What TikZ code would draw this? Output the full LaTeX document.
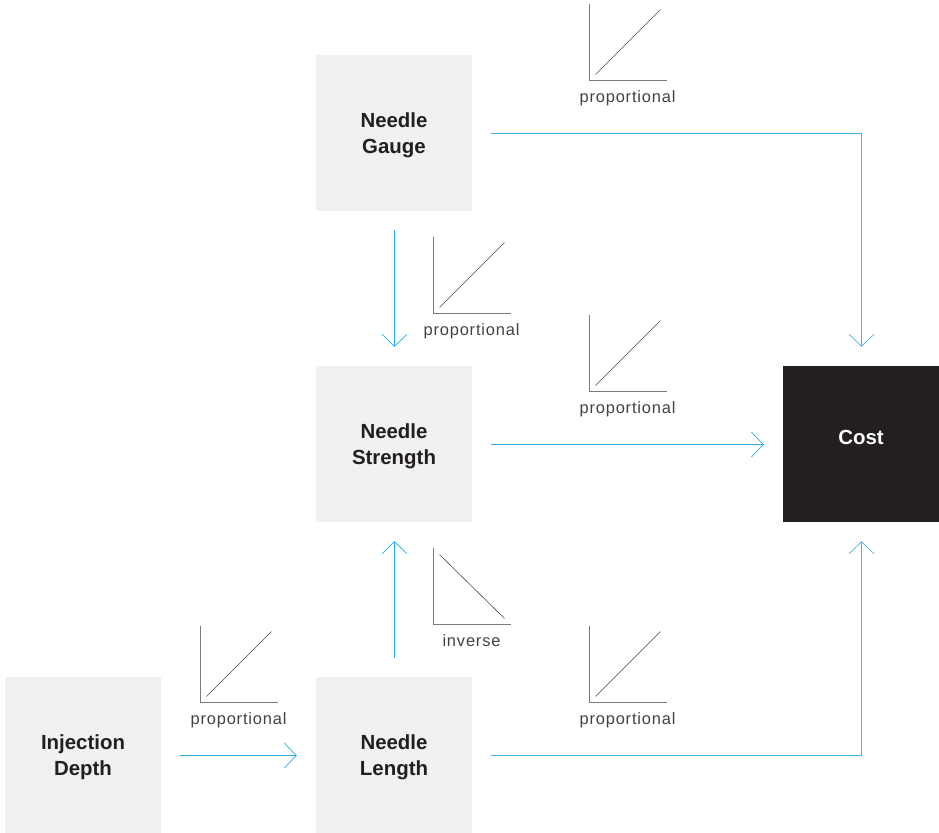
\documentclass[tikz,border=0pt]{standalone}
\usepackage{fontspec}
\setmainfont{Liberation Sans}
\newfontfamily\tagfont[LetterSpace=5]{Liberation Sans}
\usetikzlibrary{arrows.meta}

\definecolor{boxgray}{HTML}{F1F1F1}
\definecolor{inkdark}{HTML}{231F20}
\definecolor{flowblue}{HTML}{2FAAE1}
\definecolor{flowlight}{HTML}{45B5E8}
\definecolor{axisgray}{HTML}{7A7A7A}

\tikzset{
  factor/.style={fill=boxgray, minimum width=156bp, minimum height=156bp,
    inner sep=0pt},
  outcome/.style={factor, fill=inkdark},
  factortext/.style={align=center, text=inkdark, inner sep=0pt,
    font=\bfseries\fontsize{20.5}{26}\selectfont},
  flow/.style={draw=flowblue, line width=1.2bp,
    -{Straight Barb[length=12bp, width=25bp, line width=0.7bp]}},
  softflow/.style={flow, draw=flowlight, line width=1.4bp},
  axisline/.style={draw=axisgray, line width=1bp},
  trendline/.style={draw=inkdark!80, line width=0.6bp},
  tag/.style={text=inkdark!85, inner sep=0pt,
    font=\tagfont\fontsize{16.5}{18}\selectfont},
  proppic/.pic={
    \draw[axisline] (0,-77) |- (77,0);
    \draw[trendline] (6,-6) -- (71,-71);
  },
  invpic/.pic={
    \draw[axisline] (0,-77) |- (77,0);
    \draw[trendline] (6,-70) -- (71,-6);
  }
}

\begin{document}
\begin{tikzpicture}[x=1bp, y=-1bp]
\useasboundingbox (0,0) rectangle (939,833);

% factor boxes
\node[factor]  (gauge)    at (394,133) {};
\node[factor]  (strength) at (394,444) {};
\node[factor]  (length)   at (394,755) {};
\node[factor]  (depth)    at (83,755)  {};
\node[outcome] (cost)     at (861,444) {};

% box captions
\node[factortext] (gaugetext)    at (394,135) {Needle\\Gauge};
\node[factortext] (strengthtext) at (394,446) {Needle\\Strength};
\node[factortext] (lengthtext)   at (394,757) {Needle\\Length};
\node[factortext] (depthtext)    at (83,757)  {Injection\\Depth};
\node[factortext, text=white] (costtext) at (861,437) {Cost};

% relations (half-unit offsets keep the thin strokes on whole pixels)
\coordinate (bendtop) at (gauge.east -| cost.north);
\coordinate (bendbot) at (length.east -| cost.south);
\draw[flow] ([shift={(0.5,19)}]gauge.south) -- ([shift={(0.5,-19)}]strength.north);
\draw[softflow] ([shift={(19,0.5)}]gauge.east) -- ([shift={(0.5,0.5)}]bendtop)
  -- ([shift={(0.5,-19)}]cost.north);
\draw[flow] ([shift={(19,0.5)}]strength.east) -- ([shift={(-19,0.5)}]cost.west);
\draw[flow] ([shift={(0.5,-19)}]length.north) -- ([shift={(0.5,19)}]strength.south);
\draw[softflow] ([shift={(19,0.5)}]length.east) -- ([shift={(0.5,0.5)}]bendbot)
  -- ([shift={(0.5,19)}]cost.south);
\draw[flow] ([shift={(19,0.5)}]depth.east) -- ([shift={(-19,0.5)}]length.west);

% relation kinds
\pic at (589.5,80.5)  {proppic};
\node[tag] (t1) at (627.5,98)  {proportional};
\pic at (433.5,313.5) {proppic};
\node[tag] (t2) at (471.5,331) {proportional};
\pic at (589.5,391.5) {proppic};
\node[tag] (t3) at (627.5,409) {proportional};
\pic at (433.5,624.5) {invpic};
\node[tag] (t4) at (471.5,641) {inverse};
\pic at (200.5,702.5) {proppic};
\node[tag] (t5) at (238.5,720) {proportional};
\pic at (589.5,702.5) {proppic};
\node[tag] (t6) at (627.5,720) {proportional};
\end{tikzpicture}
\end{document}
